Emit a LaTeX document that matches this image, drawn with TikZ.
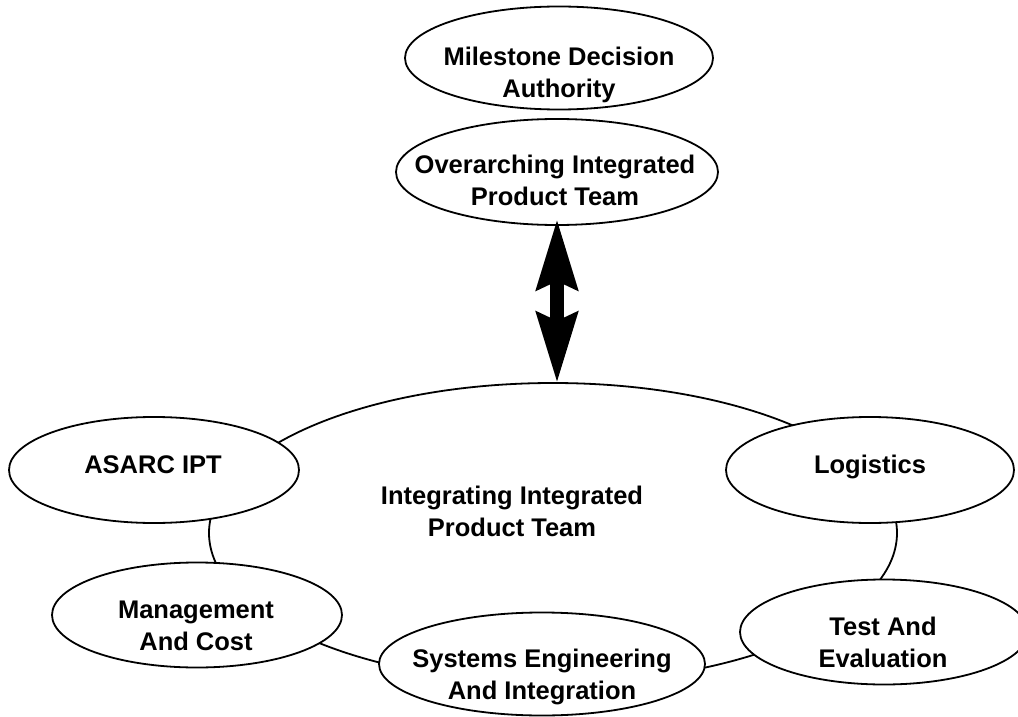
\documentclass[tikz,border=0pt]{standalone}
\usepackage{fontspec}
\setsansfont{Liberation Sans}
\usetikzlibrary{shapes.geometric,arrows.meta}

\tikzset{
  team/.style={draw, ellipse, line width=1.8pt, fill=white, inner sep=0pt},
  % anchor=base sits on the baseline of the last line
  lbl/.style={font=\sffamily\bfseries\fontsize{25.5}{32}\selectfont, align=center, anchor=base, inner sep=0pt},
  linkarrow/.style={line width=14pt,
    {Stealth[length=70pt,width=40pt,inset=8pt]}-{Stealth[length=70pt,width=40pt,inset=8pt]}}
}

\begin{document}
\begin{tikzpicture}[x=1pt,y=-1pt]
\useasboundingbox (0,0) rectangle (1018,717);

% the integrating team: its outline also links the surrounding teams
\node[team, minimum width=688pt, minimum height=300pt] (iipt) at (553,533) {};

% surrounding teams
\node[team, minimum width=290pt, minimum height=106pt] (asarc) at (154,470) {};
\node[team, minimum width=288pt, minimum height=106pt] (logi) at (870,470) {};
\node[team, minimum width=290pt, minimum height=105pt] (mgmt) at (197,615) {};
\node[team, minimum width=326pt, minimum height=103pt] (syse) at (542,664) {};
\node[team, minimum width=288pt, minimum height=105pt] (test) at (884,632) {};

% upper chain
\node[team, minimum width=308pt, minimum height=103pt] (mda) at (559,58) {};
\node[team, minimum width=322pt, minimum height=106pt] (oipt) at (557,172) {};

% two-way link between the overarching and integrating teams
\draw[linkarrow, shorten <=-7pt, shorten >=-1pt] (oipt.south) -- (oipt.south |- iipt.north);

% labels
\node[lbl] (mda-t)   at (559,97)  {Milestone Decision\\Authority};
\node[lbl] (oipt-t)  at (555,205) {Overarching Integrated\\Product Team};
\node[lbl] (iipt-t)  at (512,536) {Integrating Integrated\\Product Team};
\node[lbl] (asarc-t) at (153,473) {ASARC IPT};
\node[lbl] (logi-t)  at (870,473) {Logistics};
\node[lbl] (mgmt-t)  at (196,650) {Management\\And Cost};
\node[lbl] (syse-t)  at (542,699) {Systems Engineering\\And Integration};
\node[lbl] (test-t)  at (883,667) {Test And\\Evaluation};
\end{tikzpicture}
\end{document}
